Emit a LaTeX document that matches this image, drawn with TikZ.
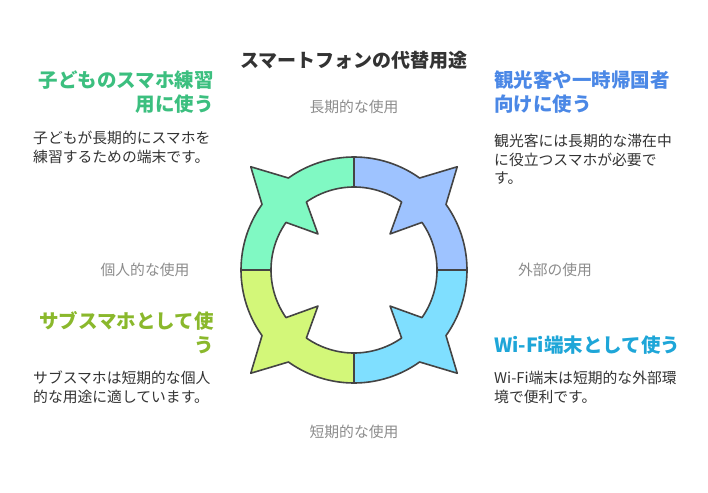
\documentclass[tikz,border=0pt]{standalone}
\usepackage{fontspec}
\setmainfont{Noto Sans CJK JP}
\definecolor{segblue}{HTML}{9EC3FF}
\definecolor{segcyan}{HTML}{7FDFFF}
\definecolor{seglime}{HTML}{D3F779}
\definecolor{segmint}{HTML}{80F9C3}
\definecolor{hdmint}{HTML}{3CBF7F}
\definecolor{hdblue}{HTML}{4B88E6}
\definecolor{hdcyan}{HTML}{1EA6D8}
\definecolor{hdlime}{HTML}{8AB82C}
\definecolor{edge}{HTML}{444444}
\tikzset{
  heading/.style={font=\fontsize{19.5}{24}\selectfont\bfseries, inner sep=0pt},
  body/.style={font=\fontsize{14.8}{18.5}\selectfont, text=black!80, inner sep=0pt, align=left},
  axislabel/.style={font=\fontsize{14.8}{16}\selectfont, text=black!45, inner sep=0pt},
}
\begin{document}
\begin{tikzpicture}[x=1pt,y=-1pt]
  \useasboundingbox (0,0) rectangle (708,492);
  % ring segments
  \foreach \r/\c in {0/segblue,90/segmint,180/seglime,270/segcyan}{
    \fill[\c, draw=edge, line width=1.6pt, line join=round, shift={(354,270)}, rotate=\r]
      (-90:113) arc[start angle=-90, end angle=-54.5, radius=113]
      -- (-45:146) -- (-35.5:113)
      arc[start angle=-35.5, end angle=0, radius=113]
      -- (0:83) arc[start angle=0, end angle=-35, radius=83]
      -- (-45:51) -- (-55:83)
      arc[start angle=-55, end angle=-90, radius=83] -- cycle;
  }
  % title
  \node[heading, text=black!80, font=\fontsize{19}{20}\selectfont\bfseries] (title) at (354,60) {スマートフォンの代替用途};
  % axis labels
  \node[axislabel] (longterm) at (354,107) {長期的な使用};
  \node[axislabel] (external) at (555,270) {外部の使用};
  \node[axislabel] (shortterm) at (354,432) {短期的な使用};
  \node[axislabel] (personal) at (145,270) {個人的な使用};
  % top left
  \node[heading, text=hdmint, align=right, anchor=north east] (kidshead) at (214,71) {子どものスマホ練習\\用に使う};
  \node[body, anchor=north west] (kidsbody) at (33,131) {子どもが長期的にスマホを\\練習するための端末です。};
  % top right
  \node[heading, text=hdblue, align=left, anchor=north west] (touristhead) at (494,71) {観光客や一時帰国者\\向けに使う};
  \node[body, anchor=north west] (touristbody) at (494,134) {観光客には長期的な滞在中\\に役立つスマホが必要で\\す。};
  % bottom right
  \node[heading, text=hdcyan, anchor=north west] (wifihead) at (494,336) {Wi-Fi端末として使う};
  \node[body, anchor=north west] (wifibody) at (494,371) {Wi-Fi端末は短期的な外部環\\境で便利です。};
  % bottom left
  \node[heading, text=hdlime, align=right, anchor=north east] (subhead) at (214,311) {サブスマホとして使\\う};
  \node[body, anchor=north west] (subbody) at (33,371) {サブスマホは短期的な個人\\的な用途に適しています。};
\end{tikzpicture}
\end{document}
